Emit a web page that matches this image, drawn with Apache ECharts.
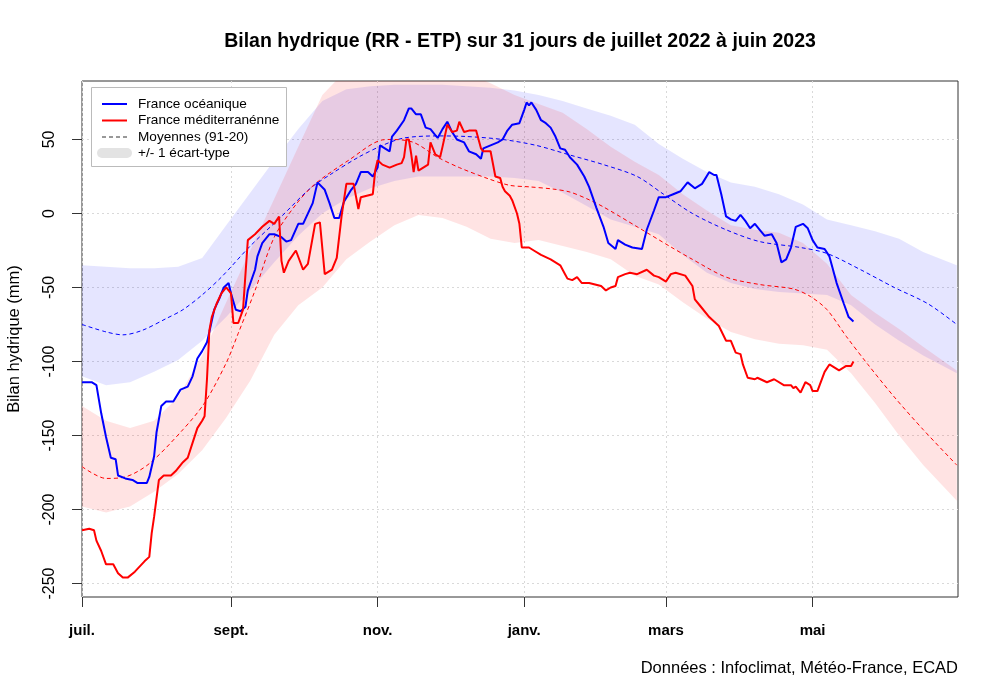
<!DOCTYPE html>
<html><head><meta charset="utf-8">
<script src="https://cdn.jsdelivr.net/npm/echarts/dist/echarts.min.js"></script>
<style>html,body{margin:0;padding:0;background:#fff}#c{width:1000px;height:699px}</style>
</head><body><div id="c"></div>
<script>
// x = days since 1 July 2022
const monthTicks = [0, 62, 123, 184, 243, 304];
const monthLabels = ['juil.', 'sept.', 'nov.', 'janv.', 'mars', 'mai'];
const yTicks = [-250, -200, -150, -100, -50, 0, 50];

const oceanDays = [0,4,6,8,10,12,14,15,18,21,23,27,28,30,31,33,35,38,41,44,46,48,50,52,53,55,57,59,61,62,64,66,68,69,72,73,75,78,80,83,85,87,90,92,96,98,101,103,105,107,109,112,114,116,119,121,123,124,127,128,129,131,134,136,137,139,141,143,145,147,148,150,152,154,156,159,161,164,166,167,170,173,175,177,179,182,184,185,186,187,189,191,193,195,197,199,201,203,206,209,211,214,217,219,222,223,226,229,233,235,238,240,243,246,249,252,255,258,261,263,264,266,268,270,272,274,276,278,280,282,284,287,289,291,293,295,297,300,302,304,306,309,311,314,317,319,321];
const oceanVals = [-114,-114,-116,-135,-151,-165,-166,-177,-179,-180,-182,-182,-178,-164,-148,-130,-127,-127,-119,-117,-110,-98,-93,-87,-80,-65,-58,-50,-47,-54,-65,-66,-63,-52,-38,-29,-20,-14,-14,-16,-19,-18,-7,-7,7,21,16,7,-3,-3,8,16,20,28,28,25,31,46,43,42,52,56,63,71,71,67,67,58,57,53,51,57,62,55,50,48,42,40,37,44,46,48,50,56,60,61,70,75,73,75,70,63,61,58,52,44,43,38,33,25,18,4,-9,-20,-24,-18,-21,-23,-24,-11,2,11,11,13,15,21,17,20,28,26,26,13,-2,-4,-5,-1,-5,-10,-7,-11,-15,-14,-20,-33,-31,-23,-9,-7,-10,-18,-23,-24,-29,-47,-61,-70,-73];

const medDays = [0,3,5,6,8,10,13,15,17,19,22,26,28,29,30,32,34,37,39,42,44,46,48,50,51,52,53,54,56,58,60,62,63,65,67,69,72,75,78,80,82,83,84,86,89,92,94,97,99,101,104,106,108,110,113,115,116,121,122,123,125,128,131,133,134,135,136,137,138,139,140,142,144,145,147,149,150,152,154,156,157,159,161,164,166,167,170,172,174,175,176,178,179,181,182,183,186,188,191,195,199,201,202,204,206,208,211,216,218,220,222,223,226,228,231,235,238,240,242,243,245,247,251,254,255,257,261,265,268,270,272,274,275,277,280,281,285,288,292,295,296,297,299,301,303,304,306,309,311,313,315,318,320,321];
const medVals = [-214,-213,-214,-221,-228,-237,-237,-243,-246,-246,-242,-235,-232,-216,-205,-180,-177,-177,-174,-168,-165,-155,-145,-140,-137,-112,-79,-70,-61,-54,-50,-54,-74,-74,-65,-18,-14,-9,-5,-7,-2,-32,-40,-32,-25,-38,-34,-7,-6,-41,-38,-30,-2,20,20,3,11,13,29,36,33,31,33,34,38,50,50,40,28,39,29,31,33,48,40,38,45,60,55,56,62,55,56,56,44,42,42,25,24,18,15,12,9,0,-7,-23,-23,-25,-28,-31,-35,-41,-44,-45,-43,-47,-47,-49,-52,-50,-49,-43,-41,-40,-41,-38,-42,-43,-45,-46,-41,-40,-42,-49,-58,-62,-70,-76,-86,-86,-94,-95,-102,-111,-112,-111,-114,-112,-116,-116,-118,-117,-121,-114,-116,-120,-120,-107,-102,-104,-106,-103,-103,-100];

const oceanMeanDays = [0,10,17,25,35,42,50,58,70,83,95,104,115,125,134,148,160,175,189,203,217,231,242,254,268,282,299,310,324,338,352,364];
const oceanMeanVals = [-75,-80,-82,-79,-71,-65,-55,-43,-22,-2,17,27,38,46,51,52.4,52,50,46,39.5,33,25,13,0,-11,-19,-23,-27,-38,-50,-61,-75];
const medMeanDays = [0,10,18,28,42,51,60,65,72,80,89,97,111,125,129,138,148,157,169,178,186,196,203,210,217,231,245,254,268,282,296,303,310,318,327,338,350,364];
const medMeanVals = [-171,-179,-178,-169,-146,-128,-101,-81,-52,-16,6,20,36,49.7,50,48,38,31,23.5,19,18,16.5,14.5,10,4.4,-9,-22.6,-31,-43,-48,-51,-56,-65,-83,-102,-124,-146,-170];

const bandDays = [0,10,20,30,40,50,60,70,80,90,100,110,120,130,140,150,160,170,180,190,200,210,220,230,240,250,260,270,280,290,300,310,320,330,340,350,364];
const oceanHigh = [-35,-36,-37,-37,-36,-30,-8,14,36,57,76,84,86,87,87,87,86,85,83,80,76,71,66,60,47,37,28,21,18,13,6,-4,-8,-12,-17,-26,-35];
const oceanLow = [-110,-116,-114,-107,-99,-86,-70,-52,-33,-15,0,10,17,22,25,25,25,25,24,22,14,5,-4,-9,-14,-28,-40,-47,-51,-53,-54,-55,-62,-75,-86,-96,-108];
const medHigh = [-130,-140,-145,-140,-124,-96,-60,-25,10,45,80,97,100,100,98,97,95,88,80,74,68,57,45,35,26,13,2,-8,-11,-13,-20,-34,-55,-67,-78,-90,-106];
const medLow = [-198,-202,-198,-188,-176,-160,-138,-113,-82,-62,-50,-31,-19,-8,-1,-3,-9,-17,-20,-18,-22,-26,-31,-42,-48,-60,-71,-80,-85,-88,-89,-92,-108,-128,-150,-170,-194];

const FONT = '"Liberation Sans", Arial, sans-serif';
const pairs = (xs, ys) => xs.map((x, i) => [x, ys[i]]);

function band(days, lo, hi, color) {
  return {
    type: 'custom', silent: true, z: 1,
    data: [[days[0], lo[0]]],
    renderItem: (params, api) => {
      const pts = [];
      for (let i = 0; i < days.length; i++) pts.push(api.coord([days[i], hi[i]]));
      for (let i = days.length - 1; i >= 0; i--) pts.push(api.coord([days[i], lo[i]]));
      const cs = params.coordSys;
      return {
        type: 'polygon', shape: { points: pts },
        style: { fill: color },
        clipPath: { type: 'rect', shape: { x: cs.x, y: cs.y, width: cs.width, height: cs.height } }
      };
    }
  };
}
function line(xs, ys, color, width, dashed, z) {
  return {
    type: 'line', data: pairs(xs, ys), showSymbol: false, symbol: 'none', silent: true, z: z,
    lineStyle: { color: color, width: width, type: dashed ? [4, 3] : 'solid' },
    smooth: dashed ? 0.3 : false, animation: false
  };
}

const chart = echarts.init(document.getElementById('c'), null, { renderer: 'canvas' });
chart.setOption({
  animation: false,
  backgroundColor: '#fff',
  grid: { left: 82, right: 42, top: 81, bottom: 102, containLabel: false, outerBoundsMode: 'none', show: true, borderColor: '#333', borderWidth: 1, backgroundColor: 'transparent' },
  xAxis: {
    type: 'value', min: 0, max: 364.5,
    axisLine: { show: false, onZero: false },
    axisTick: { show: true, length: 10, lineStyle: { color: '#333' }, customValues: monthTicks },
    axisLabel: {
      customValues: monthTicks, margin: 26, color: '#000',
      fontFamily: FONT, fontSize: 15, fontWeight: 'bold',
      formatter: v => monthLabels[monthTicks.indexOf(v)] || ''
    },
    splitLine: { show: true, lineStyle: { color: '#d9d9d9', type: [2, 3], width: 1 } }
  },
  yAxis: {
    type: 'value', min: -259.1, max: 89.5,
    axisLine: { show: false, onZero: false },
    axisTick: { show: true, length: 10, lineStyle: { color: '#333' }, customValues: yTicks },
    axisLabel: { customValues: yTicks, rotate: 90, margin: 24, color: '#000', fontFamily: FONT, fontSize: 16 },
    splitLine: { show: true, lineStyle: { color: '#d9d9d9', type: [2, 3], width: 1 } },
    name: 'Bilan hydrique (mm)', nameLocation: 'middle', nameGap: 59, nameRotate: 90,
    nameTextStyle: { fontFamily: FONT, fontSize: 16.5, color: '#000' }
  },
  series: [
    band(bandDays, oceanLow, oceanHigh, 'rgba(0,0,255,0.10)'),
    band(bandDays, medLow, medHigh, 'rgba(255,0,0,0.11)'),
    line(oceanMeanDays, oceanMeanVals, '#0000ff', 1, true, 3),
    line(medMeanDays, medMeanVals, '#ff0000', 1, true, 3),
    line(oceanDays, oceanVals, '#0000ff', 2, false, 4),
    line(medDays, medVals, '#ff0000', 2, false, 4)
  ],
  graphic: [
    { type: 'text', x: 520, y: 42, style: { text: 'Bilan hydrique (RR - ETP) sur 31 jours de juillet 2022 à juin 2023', textAlign: 'center', textVerticalAlign: 'middle', font: 'bold 19.5px ' + FONT, fill: '#000' } },
    { type: 'text', x: 958, y: 668, style: { text: 'Données : Infoclimat, Météo-France, ECAD', textAlign: 'right', textVerticalAlign: 'middle', font: '16.5px ' + FONT, fill: '#000' } },
    { type: 'rect', left: 91, top: 87, shape: { width: 195, height: 79 }, style: { fill: '#fff', stroke: '#bbb', lineWidth: 1 }, z: 10 },
    { type: 'line', z: 11, shape: { x1: 102, y1: 104, x2: 127, y2: 104 }, style: { stroke: '#0000ff', lineWidth: 2 } },
    { type: 'line', z: 11, shape: { x1: 102, y1: 120.5, x2: 127, y2: 120.5 }, style: { stroke: '#ff0000', lineWidth: 2 } },
    { type: 'line', z: 11, shape: { x1: 102, y1: 137, x2: 127, y2: 137 }, style: { stroke: '#333', lineWidth: 1, lineDash: [4, 3] } },
    { type: 'line', z: 11, shape: { x1: 102, y1: 153, x2: 127, y2: 153 }, style: { stroke: '#e3e3e3', lineWidth: 10, lineCap: 'round' } },
    { type: 'text', z: 11, x: 138, y: 104, style: { text: 'France océanique', textVerticalAlign: 'middle', font: '13.6px ' + FONT, fill: '#000' } },
    { type: 'text', z: 11, x: 138, y: 120.5, style: { text: 'France méditerranénne', textVerticalAlign: 'middle', font: '13.6px ' + FONT, fill: '#000' } },
    { type: 'text', z: 11, x: 138, y: 137, style: { text: 'Moyennes (91-20)', textVerticalAlign: 'middle', font: '13.6px ' + FONT, fill: '#000' } },
    { type: 'text', z: 11, x: 138, y: 153, style: { text: '+/- 1 écart-type', textVerticalAlign: 'middle', font: '13.6px ' + FONT, fill: '#000' } }
  ]
});
</script></body></html>
